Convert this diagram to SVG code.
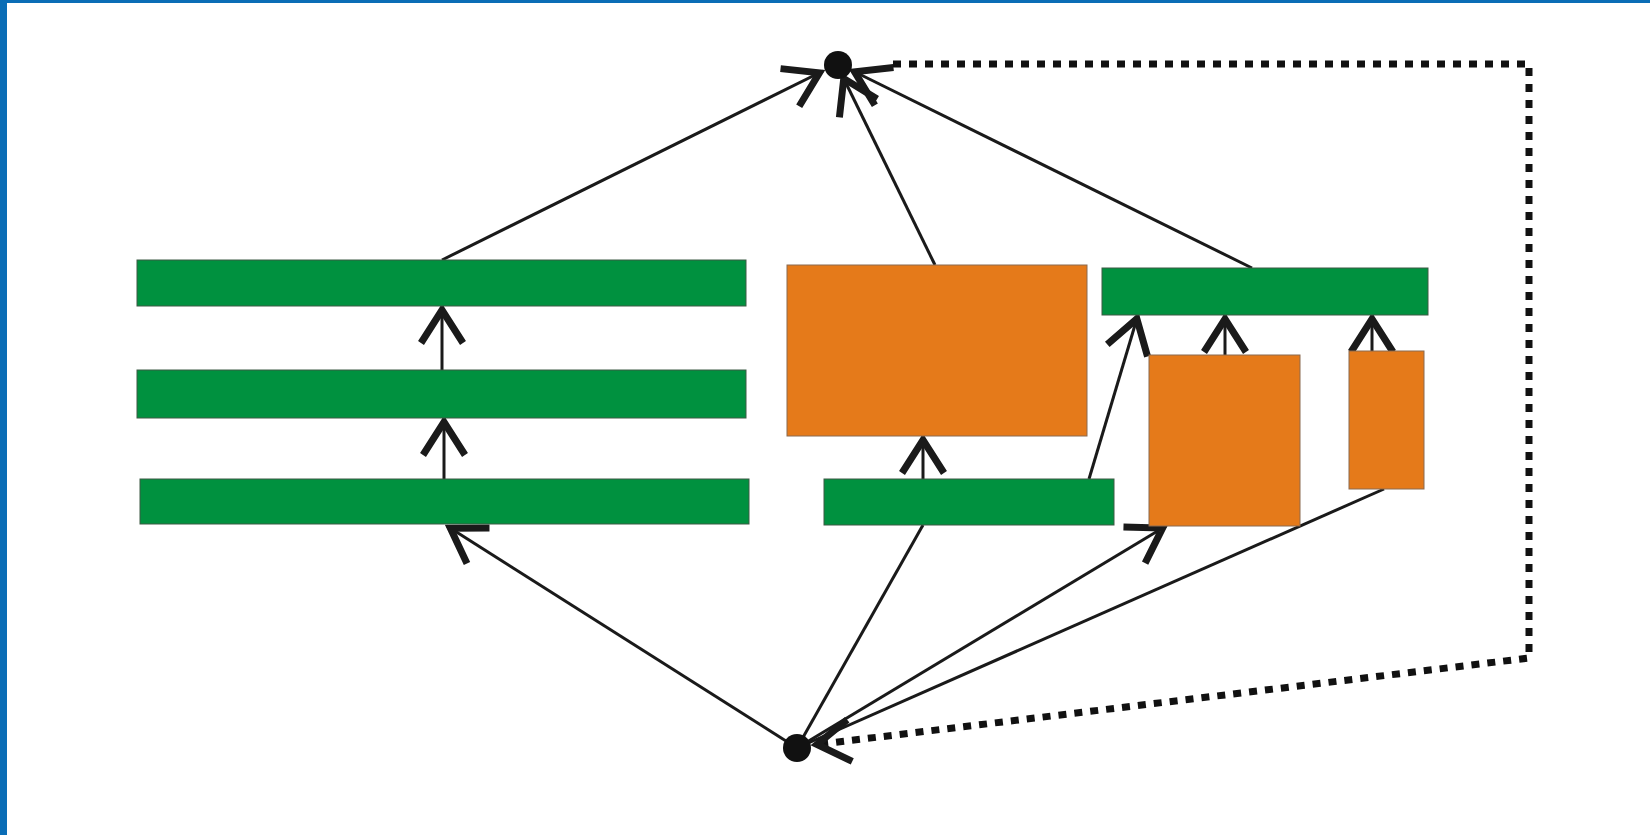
<svg xmlns="http://www.w3.org/2000/svg" width="1650" height="835" viewBox="0 0 1650 835">
  <style>
    .frame { fill: #0A6DB6; }
    .green { fill: #00913F; stroke: #3d5a45; stroke-width: 1; }
    .orange { fill: #E57A1A; stroke: #8a6a50; stroke-width: 1; }
    .dot { fill: #111; }
    .link { stroke: #1a1a1a; stroke-width: 3; fill: none; }
    .plain { stroke: #1a1a1a; stroke-width: 3; fill: none; }
    .loop { stroke: #111; stroke-width: 7; fill: none; stroke-dasharray: 8 8; }
  </style>
  <defs>
    <marker id="chevron" markerUnits="userSpaceOnUse" viewBox="-50 -30 60 60" markerWidth="60" markerHeight="60" refX="0" refY="0" orient="auto" overflow="visible">
      <path d="M-37,-21 L-4,0 L-37,21" fill="none" stroke="#1a1a1a" stroke-width="7" stroke-dasharray="none" stroke-linejoin="miter"/>
    </marker>
  </defs>

  <rect width="1650" height="835" fill="#ffffff"/>
  <rect class="frame" x="0" y="0" width="1650" height="3"/>
  <rect class="frame" x="0" y="0" width="7" height="835"/>

  <g id="connectors">
    <!-- into the top node -->
    <line class="link" x1="442" y1="260" x2="823" y2="71" marker-end="url(#chevron)"/>
    <line class="link" x1="935" y1="265" x2="842" y2="75" marker-end="url(#chevron)"/>
    <line class="link" x1="1252" y1="268" x2="851" y2="70" marker-end="url(#chevron)"/>
    <!-- stacked bars on the left -->
    <line class="link" x1="442" y1="370" x2="442" y2="306" marker-end="url(#chevron)"/>
    <line class="link" x1="444" y1="479" x2="444" y2="418" marker-end="url(#chevron)"/>
    <!-- middle column -->
    <line class="link" x1="923" y1="479" x2="923" y2="436" marker-end="url(#chevron)"/>
    <line class="link" x1="1089" y1="479" x2="1138" y2="315" marker-end="url(#chevron)"/>
    <!-- right group -->
    <line class="link" x1="1225" y1="355" x2="1225" y2="315" marker-end="url(#chevron)"/>
    <line class="link" x1="1372" y1="351" x2="1372" y2="315" marker-end="url(#chevron)"/>
    <!-- out of the bottom node -->
    <line class="link" x1="797" y1="748" x2="447" y2="526" marker-end="url(#chevron)"/>
    <line class="plain" x1="797" y1="748" x2="923" y2="525"/>
    <line class="link" x1="797" y1="748" x2="1166" y2="526" marker-end="url(#chevron)"/>
    <line class="plain" x1="797" y1="748" x2="1384" y2="489"/>
    <!-- dotted return path -->
    <polyline class="loop" points="893,64 1529,64 1529,658 813,745" marker-end="url(#chevron)"/>
  </g>

  <g id="bar-top"><rect class="green" x="137" y="260" width="609" height="46"/></g>
  <g id="bar-mid"><rect class="green" x="137" y="370" width="609" height="48"/></g>
  <g id="bar-low"><rect class="green" x="140" y="479" width="609" height="45"/></g>

  <g id="block-large"><rect class="orange" x="787" y="265" width="300" height="171"/></g>
  <g id="bar-center"><rect class="green" x="824" y="479" width="290" height="46"/></g>

  <g id="bar-right"><rect class="green" x="1102" y="268" width="326" height="47"/></g>
  <g id="block-mid"><rect class="orange" x="1149" y="355" width="151" height="171"/></g>
  <g id="block-small"><rect class="orange" x="1349" y="351" width="75" height="138"/></g>

  <g id="node-top"><circle class="dot" cx="838" cy="65" r="14"/></g>
  <g id="node-bottom"><circle class="dot" cx="797" cy="748" r="14"/></g>
</svg>
